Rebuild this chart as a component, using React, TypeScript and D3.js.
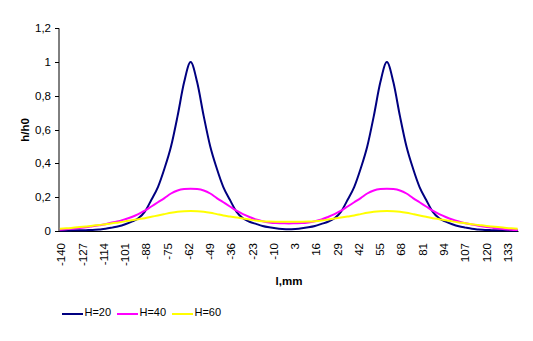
import React from "react";
import * as d3 from "d3";

// Positions along the strip, mm (one sample every 4 mm)
const positions: number[] = d3.range(-140, 141, 4);

// Category tick labels shown on the x axis
const xTickLabels: number[] = [-140, -127, -114, -101, -88, -75, -62, -49, -36, -23, -10, 3, 16, 29, 42, 55, 68, 81, 94, 107, 120, 133];
const yTicks: number[] = [0, 0.2, 0.4, 0.6, 0.8, 1, 1.2];

const seriesNames: string[] = ["H=20", "H=40", "H=60"];
const seriesColors: string[] = ["#000080", "#FF00FF", "#FFFF00"];

const h20: number[] = [
  0.003, 0.003, 0.004, 0.004, 0.005, 0.006, 0.009, 0.013, 0.02, 0.028, 0.04, 0.055, 0.075, 0.115, 0.185, 0.26, 0.37, 0.5, 0.68, 0.88,
  1.0,
  0.88, 0.68, 0.5, 0.37, 0.26, 0.185, 0.115, 0.075, 0.055, 0.042, 0.03, 0.022, 0.016, 0.012,
  0.01,
  0.012, 0.016, 0.022, 0.03, 0.042, 0.055, 0.075, 0.115, 0.185, 0.26, 0.37, 0.5, 0.68, 0.88,
  1.0,
  0.88, 0.68, 0.5, 0.37, 0.26, 0.185, 0.115, 0.075, 0.055, 0.04, 0.028, 0.02, 0.013, 0.009, 0.006, 0.005, 0.004, 0.004, 0.003, 0.003,
];

const h40: number[] = [
  0.008, 0.01, 0.014, 0.018, 0.022, 0.028, 0.034, 0.04, 0.05, 0.058, 0.07, 0.083, 0.1, 0.12, 0.145, 0.17, 0.195, 0.222, 0.24, 0.248,
  0.25,
  0.248, 0.24, 0.222, 0.195, 0.17, 0.145, 0.12, 0.1, 0.083, 0.068, 0.058, 0.051, 0.047, 0.046,
  0.045,
  0.046, 0.047, 0.051, 0.058, 0.068, 0.083, 0.1, 0.12, 0.145, 0.17, 0.195, 0.222, 0.24, 0.248,
  0.25,
  0.248, 0.24, 0.222, 0.195, 0.17, 0.145, 0.12, 0.1, 0.083, 0.068, 0.056, 0.046, 0.038, 0.031, 0.025, 0.02, 0.015, 0.011, 0.008, 0.006,
];

const h60: number[] = [
  0.013, 0.016, 0.019, 0.023, 0.027, 0.031, 0.036, 0.04, 0.046, 0.051, 0.057, 0.064, 0.07, 0.076, 0.084, 0.092, 0.1, 0.108, 0.114, 0.117,
  0.118,
  0.117, 0.114, 0.108, 0.1, 0.092, 0.086, 0.08, 0.074, 0.068, 0.062, 0.058, 0.056, 0.055, 0.055,
  0.055,
  0.055, 0.055, 0.056, 0.058, 0.062, 0.068, 0.074, 0.08, 0.086, 0.092, 0.1, 0.108, 0.114, 0.117,
  0.118,
  0.117, 0.114, 0.108, 0.1, 0.092, 0.084, 0.076, 0.07, 0.064, 0.057, 0.051, 0.046, 0.04, 0.036, 0.031, 0.027, 0.023, 0.019, 0.016, 0.013,
];

const seriesValues: number[][] = [h20, h40, h60];

const FONT = "'Liberation Sans', Arial, sans-serif";

export default function App() {
  const W = 533;
  const H = 341;
  const left = 59;
  const right = 518.5;
  const top = 28.3;
  const bottom = 231;

  const x = d3.scaleLinear().domain([-140.5, 140.5]).range([left, right]);
  const y = d3.scaleLinear().domain([0, 1.2]).range([bottom, top]);

  const line = d3
    .line<[number, number]>()
    .x((d) => x(d[0]))
    .y((d) => y(d[1]))
    .curve(d3.curveMonotoneX);

  const fmt = (v: number) => (Math.round(v * 10) / 10).toString().replace(".", ",");

  const legendX = [62, 117, 172];

  return (
    <svg
      width={W}
      height={H}
      style={{ position: "absolute", left: 0, top: 0, background: "#fff" }}
      fontFamily={FONT}
    >
      <rect x={0} y={0} width={W} height={H} fill="#fff" />
      {/* y axis */}
      <line x1={left} x2={left} y1={top} y2={bottom} stroke="#000" strokeWidth={1} />
      {yTicks.map((t) => (
        <g key={t}>
          <line x1={left - 4} x2={left} y1={Math.round(y(t)) + 0.5} y2={Math.round(y(t)) + 0.5} stroke="#000" />
          <text x={51} y={y(t)} dy="0.35em" textAnchor="end" fontSize={11.5} fill="#000">
            {fmt(t)}
          </text>
        </g>
      ))}
      {/* x axis */}
      <line x1={left} x2={right} y1={bottom + 0.5} y2={bottom + 0.5} stroke="#000" strokeWidth={1} />
      {xTickLabels.map((t) => (
        <text
          key={t}
          transform={`translate(${x(t) + 1.5},243) rotate(-90)`}
          dy="0.35em"
          textAnchor="end"
          fontSize={11.5}
          fill="#000"
        >
          {t}
        </text>
      ))}
      {/* series */}
      {seriesValues.map((vals, i) => (
        <path
          key={seriesNames[i]}
          d={line(positions.map((p, j) => [p, vals[j]] as [number, number])) || ""}
          fill="none"
          stroke={seriesColors[i]}
          strokeWidth={2}
          strokeLinejoin="round"
        />
      ))}
      {/* axis titles */}
      <text
        transform="translate(25,130) rotate(-90)"
        dy="0.35em"
        textAnchor="middle"
        fontSize={11.5}
        fontWeight="bold"
        fill="#000"
      >
        h/h0
      </text>
      <text x={289} y={285} textAnchor="middle" fontSize={11.5} fontWeight="bold" fill="#000">
        l,mm
      </text>
      {/* legend */}
      {seriesNames.map((n, i) => (
        <g key={n}>
          <line x1={legendX[i]} x2={legendX[i] + 21} y1={314} y2={314} stroke={seriesColors[i]} strokeWidth={2} />
          <text x={legendX[i] + 22.5} y={316} fontSize={11} fill="#000">
            {n}
          </text>
        </g>
      ))}
    </svg>
  );
}
